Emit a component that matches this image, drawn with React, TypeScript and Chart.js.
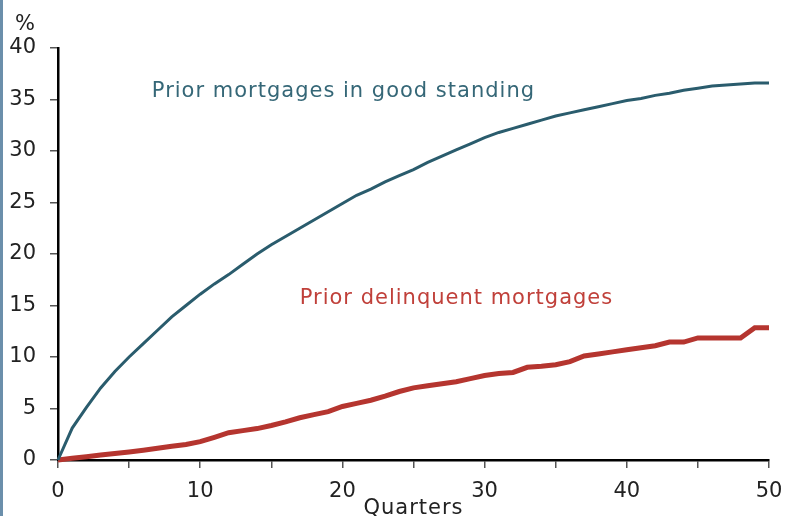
import React, { useEffect, useRef } from 'react';
import { Chart, registerables } from 'chart.js';

Chart.register(...registerables);

const quarters = [0,1,2,3,4,5,6,7,8,9,10,11,12,13,14,15,16,17,18,19,20,21,22,23,24,25,26,27,28,29,30,31,32,33,34,35,36,37,38,39,40,41,42,43,44,45,46,47,48,49,50];

const goodStanding = [0,3.1,5.1,7.0,8.6,10.0,11.3,12.6,13.9,15.0,16.1,17.1,18.0,19.0,20.0,20.9,21.7,22.5,23.3,24.1,24.9,25.7,26.3,27.0,27.6,28.2,28.9,29.5,30.1,30.7,31.3,31.8,32.2,32.6,33.0,33.4,33.7,34.0,34.3,34.6,34.9,35.1,35.4,35.6,35.9,36.1,36.3,36.4,36.5,36.6,36.6];

const delinquent = [0,0.16,0.32,0.48,0.64,0.78,0.95,1.15,1.33,1.5,1.78,2.2,2.65,2.85,3.05,3.35,3.7,4.1,4.4,4.7,5.2,5.5,5.8,6.2,6.65,7.0,7.2,7.4,7.6,7.9,8.2,8.4,8.5,9.0,9.1,9.25,9.55,10.1,10.3,10.5,10.7,10.9,11.1,11.45,11.45,11.85,11.85,11.85,11.85,12.85,12.85];

const seriesNames = ['Prior mortgages in good standing', 'Prior delinquent mortgages'];
const xTitle = 'Quarters';
const yUnit = '%';

const BLUE_LINE = '#2a5c6d';
const BLUE_TEXT = '#356777';
const RED_LINE = '#b5352f';
const RED_TEXT = '#c0403a';
const FONT = '"DejaVu Sans", Verdana, sans-serif';

const labelsPlugin = {
  id: 'labelsPlugin',
  afterDraw(chart: any) {
    const ctx = chart.ctx;
    const xs = chart.scales.x;
    const ys = chart.scales.y;
    ctx.save();
    ctx.font = `21px ${FONT}`;
    (ctx as any).letterSpacing = '1px';
    ctx.textBaseline = 'middle';
    ctx.textAlign = 'left';
    ctx.fillStyle = BLUE_TEXT;
    ctx.fillText(seriesNames[0], xs.getPixelForValue(6.6), ys.getPixelForValue(35.8));
    ctx.fillStyle = RED_TEXT;
    ctx.fillText(seriesNames[1], xs.getPixelForValue(17.0), ys.getPixelForValue(15.7));
    ctx.fillStyle = '#222';
    ctx.textAlign = 'center';
    ctx.fillText(xTitle, (chart.chartArea.left + chart.chartArea.right) / 2, 509);
    (ctx as any).letterSpacing = '0px';
    ctx.fillText(yUnit, 25, 25);
    ctx.restore();
  },
};

export default function App() {
  const ref = useRef<HTMLCanvasElement>(null);
  useEffect(() => {
    document.body.style.margin = '0';
    const canvas = ref.current;
    if (!canvas) return;
    const chart = new Chart(canvas, {
      type: 'line',
      data: {
        datasets: [
          {
            label: seriesNames[0],
            data: quarters.map((q, i) => ({ x: q, y: goodStanding[i] })),
            borderColor: BLUE_LINE,
            borderWidth: 3,
            pointRadius: 0,
            tension: 0,
            clip: false as any,
          },
          {
            label: seriesNames[1],
            data: quarters.map((q, i) => ({ x: q, y: delinquent[i] })),
            borderColor: RED_LINE,
            borderWidth: 5,
            pointRadius: 0,
            tension: 0,
            clip: false as any,
          },
        ],
      },
      options: {
        responsive: false,
        animation: false,
        layout: { padding: { left: 0, right: 17, top: 48, bottom: 0 } },
        plugins: { legend: { display: false }, tooltip: { enabled: false } },
        scales: {
          x: {
            type: 'linear',
            min: 0,
            max: 50,
            border: { color: '#000', width: 2.5 },
            grid: { drawOnChartArea: false, drawTicks: true, tickLength: 8, color: '#555', lineWidth: 1.5 },
            ticks: {
              stepSize: 5,
              autoSkip: false,
              maxRotation: 0,
              padding: 11,
              color: '#222',
              font: { family: FONT, size: 21 },
              callback: (v: any) => (Number(v) % 10 === 0 ? String(v) : ''),
            },
            afterFit: (s: any) => { s.height = 56; s.paddingLeft = 0; s.paddingRight = 0; },
          },
          y: {
            min: 0,
            max: 40,
            border: { color: '#000', width: 2.5 },
            grid: { drawOnChartArea: false, drawTicks: true, tickLength: 8, color: '#555', lineWidth: 1.5 },
            ticks: {
              stepSize: 5,
              padding: 14,
              color: '#222',
              font: { family: FONT, size: 21 },
            },
            afterFit: (s: any) => { s.width = 58; s.paddingTop = 0; s.paddingBottom = 0; },
          },
        },
      },
      plugins: [labelsPlugin],
    });
    return () => chart.destroy();
  }, []);
  return (
    <div style={{ position: 'relative', width: 786, height: 516, background: '#fff', overflow: 'hidden' }}>
      <div style={{ position: 'absolute', left: 0, top: 0, width: 3, height: 516, background: '#6b8fab' }} />
      <canvas ref={ref} width={786} height={516} style={{ display: 'block', width: 786, height: 516 }} />
    </div>
  );
}
